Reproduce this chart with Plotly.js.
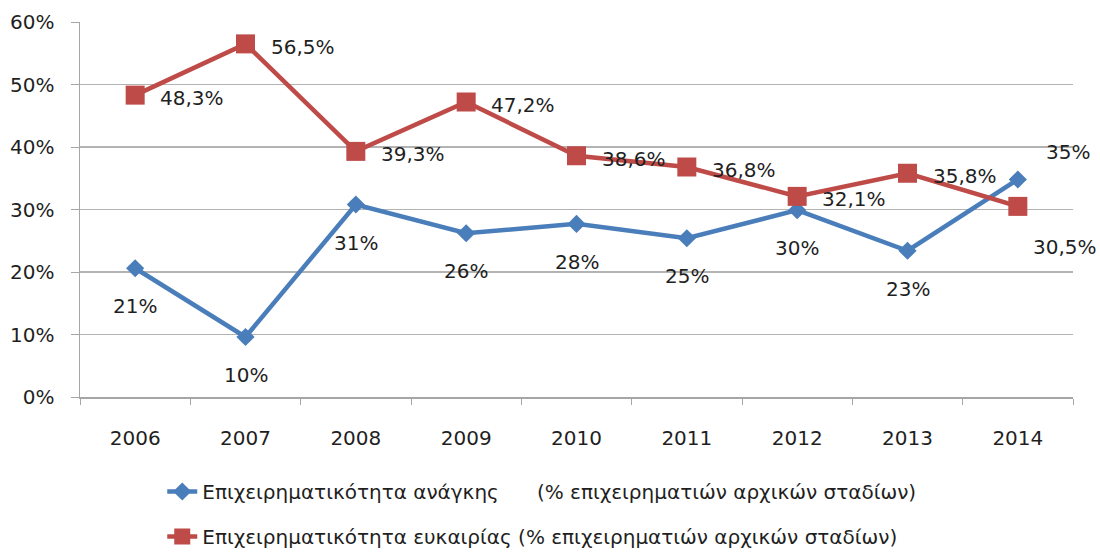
<!DOCTYPE html>
<html><head><meta charset="utf-8">
<script src="https://cdn.plot.ly/plotly-3.0.1.min.js"></script>
<style>body{margin:0;background:#fff}#chart{width:1100px;height:552px}</style>
</head><body><div id="chart"></div>
<script>
const years = ['2006','2007','2008','2009','2010','2011','2012','2013','2014'];
const necessity = [20.6, 9.6, 30.8, 26.2, 27.7, 25.4, 29.9, 23.4, 34.8];
const opportunity = [48.3, 56.5, 39.3, 47.2, 38.6, 36.8, 32.1, 35.8, 30.5];
const yTickVals = [0, 10, 20, 30, 40, 50, 60];
const yTickText = ['0%','10%','20%','30%','40%','50%','60%'];
const nameNecessity = 'Επιχειρηματικότητα ανάγκης\u00a0\u00a0\u00a0\u00a0\u00a0\u00a0(% επιχειρηματιών αρχικών σταδίων)';
const nameOpportunity = 'Επιχειρηματικότητα ευκαιρίας (% επιχειρηματιών αρχικών σταδίων)';

const FONT = '"DejaVu Sans", sans-serif';
const TXT = '#1f1f1f';
const BLUE = '#4a7ebb', RED = '#be4b48';

const traces = [
  {x: years, y: necessity, name: nameNecessity, type: 'scatter', mode: 'lines+markers',
   line: {color: BLUE, width: 4.5}, marker: {symbol: 'diamond', size: 14, color: BLUE},
   legendgroup: 'a'},
  {x: years, y: opportunity, name: nameOpportunity, type: 'scatter', mode: 'lines+markers',
   line: {color: RED, width: 4.5}, marker: {symbol: 'square', size: 19, color: RED},
   legendgroup: 'b'}
];

const annotations = [];
years.forEach((yr, i) => {
  const last = i === years.length - 1;
  annotations.push({xref: 'x', yref: 'y', x: i, y: necessity[i], text: Math.round(necessity[i]) + '%', showarrow: false,
    xanchor: last ? 'left' : 'center', yanchor: 'middle',
    xshift: last ? 26 : 0, yshift: last ? 28 : -38,
    font: {family: FONT, size: 20, color: TXT}});
  annotations.push({xref: 'x', yref: 'y', x: i, y: opportunity[i], text: opportunity[i].toFixed(1).replace('.', ',') + '%', showarrow: false,
    xanchor: last ? 'center' : 'left', yanchor: 'middle',
    xshift: last ? 47 : 23, yshift: last ? -41 : -3,
    font: {family: FONT, size: 20, color: TXT}});
});

const layout = {
  width: 1100, height: 552,
  margin: {l: 80, r: 27, t: 22, b: 155, autoexpand: false},
  paper_bgcolor: '#fff', plot_bgcolor: '#fff',
  font: {family: FONT, size: 20, color: TXT},
  showlegend: true,
  legend: {orientation: 'v', x: 0.465, xanchor: 'center', y: -0.2, yanchor: 'top',
    traceorder: 'grouped', tracegroupgap: 16, font: {family: FONT, size: 20, color: TXT}},
  xaxis: {type: 'category', range: [-0.5, years.length - 0.5], autorange: false,
    showgrid: false, zeroline: false, showline: true, linecolor: '#a6a6a6', linewidth: 1.5,
    ticks: 'outside', tickson: 'boundaries', ticklen: 6, tickcolor: '#a6a6a6', ticklabelstandoff: 22,
    tickfont: {family: FONT, size: 20, color: TXT}},
  yaxis: {range: [0, 60], autorange: false, tickvals: yTickVals, ticktext: yTickText,
    showgrid: true, gridcolor: '#b3b3b3', gridwidth: 1.5,
    zeroline: false, showline: true, linecolor: '#a6a6a6', linewidth: 1.5,
    ticks: 'outside', ticklen: 8, tickcolor: '#a6a6a6', ticklabelstandoff: 12,
    tickfont: {family: FONT, size: 20, color: TXT}},
  annotations: annotations
};

Plotly.newPlot('chart', traces, layout, {displayModeBar: false, staticPlot: true});
</script></body></html>
